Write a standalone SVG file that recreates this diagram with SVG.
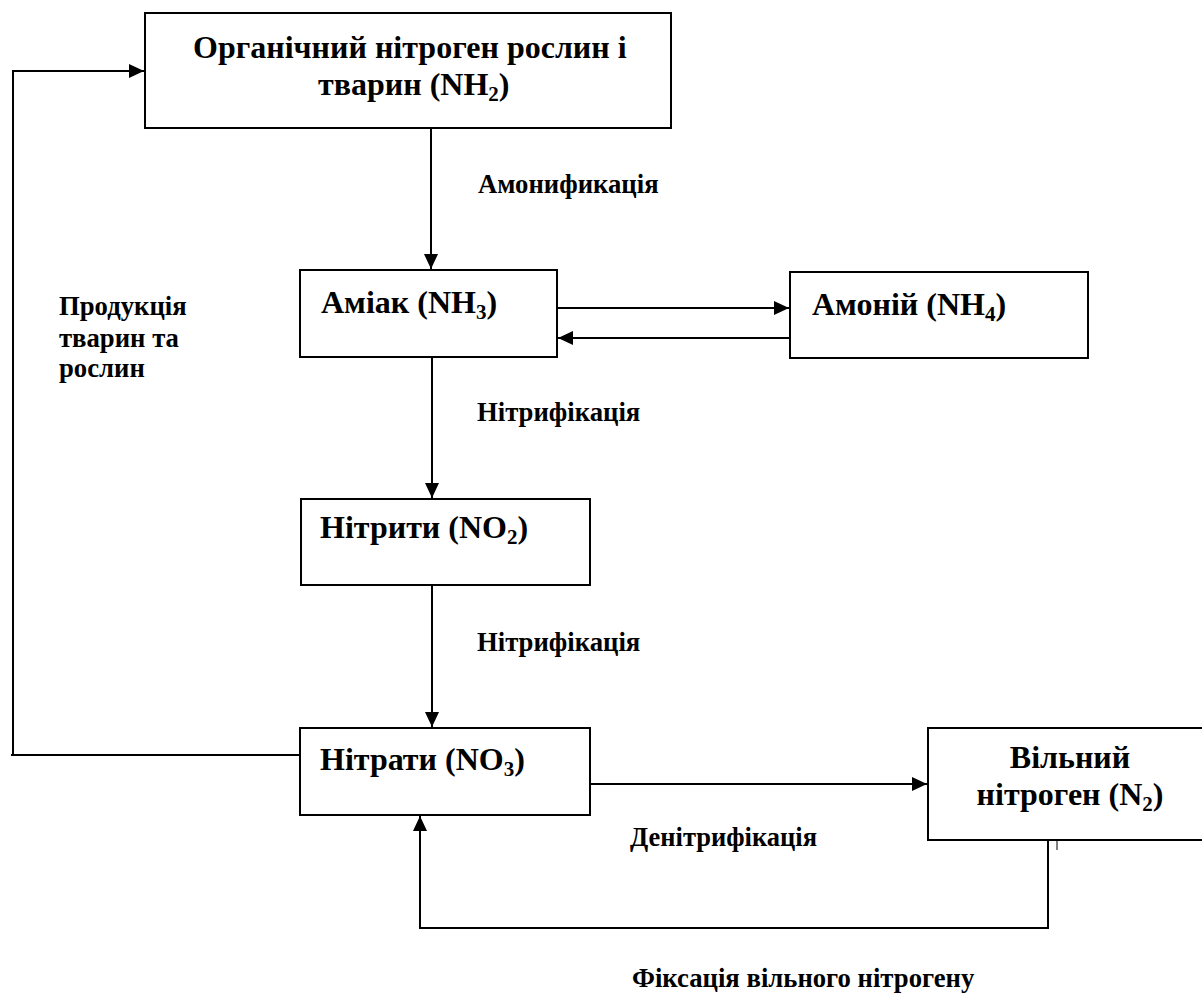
<svg xmlns="http://www.w3.org/2000/svg" width="1202" height="996" viewBox="0 0 1202 996">
<style>
.box{fill:#fff;stroke:#000;stroke-width:2}
.ln{fill:none;stroke:#000;stroke-width:2}
text{font-family:'Liberation Serif','Times New Roman',serif;font-weight:bold;fill:#000}
.big{font-size:32px}
.lbl{font-size:26.7px}
.sub{font-size:21px}
</style>
<defs>
<marker id="ah" viewBox="0 0 15 14" refX="15" refY="7" markerWidth="15" markerHeight="14" markerUnits="userSpaceOnUse" orient="auto">
<path d="M0,0 L15,7 L0,14 Z" fill="#000"/>
</marker>
</defs>
<g id="connectors">
<polyline class="ln" points="13,755 13,71 144,71" marker-end="url(#ah)"/>
<line class="ln" x1="431" y1="128" x2="431" y2="269" marker-end="url(#ah)"/>
<line class="ln" x1="557" y1="308" x2="789" y2="308" marker-end="url(#ah)"/>
<line class="ln" x1="790" y1="338" x2="558" y2="338" marker-end="url(#ah)"/>
<line class="ln" x1="432" y1="357" x2="432" y2="498" marker-end="url(#ah)"/>
<line class="ln" x1="432" y1="585" x2="432" y2="727" marker-end="url(#ah)"/>
<line class="ln" x1="11" y1="755" x2="300" y2="755"/>
<line class="ln" x1="590" y1="784" x2="927" y2="784" marker-end="url(#ah)"/>
<polyline class="ln" points="1048,840 1048,928 420,928 420,816" marker-end="url(#ah)"/>
<line x1="1057" y1="841" x2="1057" y2="850" stroke="#000" stroke-width="1"/>
<line x1="1048" y1="285" x2="1048" y2="292" stroke="#000" stroke-width="1.5"/>
</g>
<g id="n-organic">
<rect class="box" x="145" y="13" width="526" height="115"/>
<text class="big" x="193" y="58">Органічний нітроген рослин і</text>
<text class="big" x="318" y="95">тварин (NH<tspan class="sub" dy="6">2</tspan><tspan dy="-6">)</tspan></text>
</g>
<g id="n-ammonia">
<rect class="box" x="300" y="270" width="257" height="87"/>
<text class="big" x="321" y="313">Аміак (NH<tspan class="sub" dy="6">3</tspan><tspan dy="-6">)</tspan></text>
</g>
<g id="n-ammonium">
<rect class="box" x="790" y="272" width="298" height="86"/>
<text class="big" x="812" y="315">Амоній (NH<tspan class="sub" dy="6">4</tspan><tspan dy="-6">)</tspan></text>
</g>
<g id="n-nitrites">
<rect class="box" x="301" y="499" width="289" height="86"/>
<text class="big" x="320" y="538">Нітрити (NO<tspan class="sub" dy="6">2</tspan><tspan dy="-6">)</tspan></text>
</g>
<g id="n-nitrates">
<rect class="box" x="300" y="728" width="290" height="87"/>
<text class="big" x="320" y="770">Нітрати (NO<tspan class="sub" dy="6">3</tspan><tspan dy="-6">)</tspan></text>
</g>
<g id="n-free">
<rect class="box" x="928" y="728" width="290" height="112"/>
<text class="big" x="1070" y="768" text-anchor="middle">Вільний</text>
<text class="big" x="1070" y="805" text-anchor="middle">нітроген  (N<tspan class="sub" dy="6">2</tspan><tspan dy="-6">)</tspan></text>
</g>
<g id="labels">
<text class="lbl" x="478" y="193">Амонификація</text>
<text class="lbl" x="59" y="315">Продукція</text>
<text class="lbl" x="59" y="347">тварин та</text>
<text class="lbl" x="59" y="377">рослин</text>
<text class="lbl" x="477" y="421">Нітрифікація</text>
<text class="lbl" x="477" y="651">Нітрифікація</text>
<text class="lbl" x="630" y="846" textLength="187" lengthAdjust="spacingAndGlyphs">Денітрифікація</text>
<text class="lbl" x="632" y="987">Фіксація вільного нітрогену</text>
</g>
</svg>
